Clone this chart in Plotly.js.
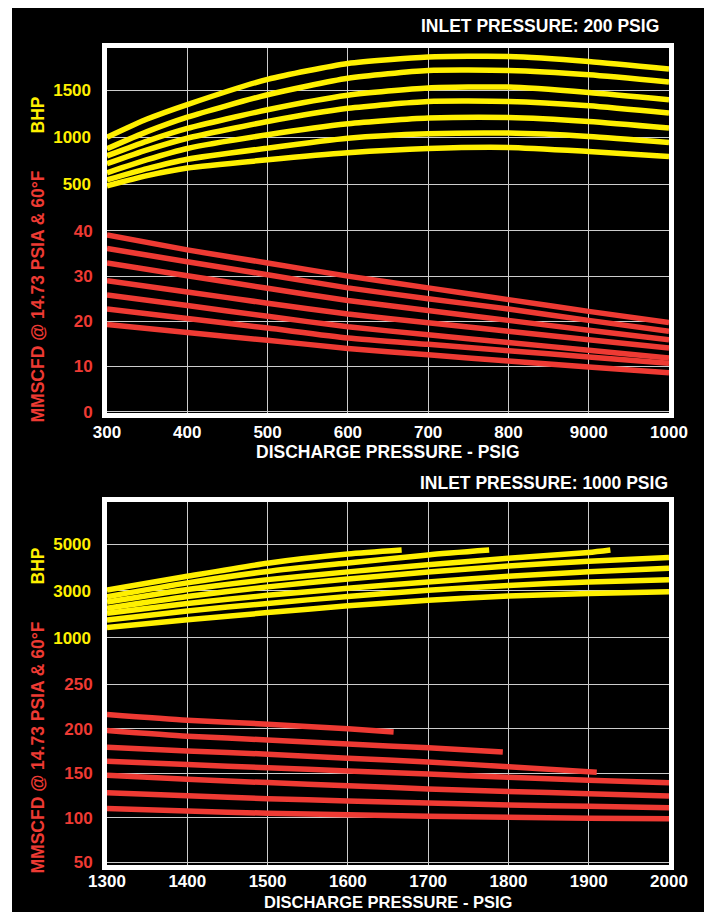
<!DOCTYPE html>
<html>
<head>
<meta charset="utf-8">
<script src="https://cdn.plot.ly/plotly-3.0.1.min.js"></script>
<style>html,body{margin:0;padding:0;background:#fff;}#chart{width:704px;height:912px;}</style>
</head>
<body>
<div id="chart"></div>
<script>
// ---------- DATA ----------
// Top panel: inlet pressure 200 PSIG
const topX = [300, 350, 400, 500, 600, 700, 800, 900, 1000];
const topTickVals = [300, 400, 500, 600, 700, 800, 900, 1000];
const topTickText = ['300', '400', '500', '600', '700', '800', '9000', '1000'];
const topBhp1 = [1000, 1195, 1350, 1620, 1790, 1858, 1864, 1811, 1730];
const topBhp2 = [877, 1060, 1215, 1455, 1631, 1714, 1714, 1668, 1591];
const topBhp3 = [802, 960, 1095, 1294, 1449, 1528, 1537, 1479, 1401];
const topBhp4 = [717, 865, 990, 1169, 1310, 1383, 1383, 1337, 1259];
const topBhp5 = [620, 760, 880, 1027, 1144, 1205, 1212, 1169, 1098];
const topBhp6 = [545, 665, 765, 884, 989, 1037, 1045, 1009, 944];
const topBhp7 = [481, 590, 671, 759, 834, 880, 891, 848, 795];

const topRedX = [300, 400, 500, 600, 700, 800, 900, 1000];
const topFlow1 = [39.1, 35.8, 32.9, 30.0, 27.4, 24.8, 22.2, 19.7];
const topFlow2 = [36.1, 33.2, 30.3, 27.4, 25.0, 22.7, 20.2, 17.8];
const topFlow3 = [32.9, 30.1, 27.3, 24.6, 22.4, 20.2, 18.0, 15.9];
const topFlow4 = [29.0, 26.5, 24.0, 21.6, 19.7, 17.8, 15.9, 14.1];
const topFlow5 = [25.8, 23.5, 21.1, 18.8, 17.0, 15.3, 13.6, 11.9];
const topFlow6 = [22.7, 20.6, 18.5, 16.3, 14.9, 13.5, 12.1, 10.7];
const topFlow7 = [19.3, 17.5, 15.8, 14.0, 12.6, 11.2, 9.9, 8.6];

const topFlowTicks = [0, 10, 20, 30, 40];
const topBhpTicks = [500, 1000, 1500];

// Bottom panel: inlet pressure 1000 PSIG
const botTickVals = [1300, 1400, 1500, 1600, 1700, 1800, 1900, 2000];
const botBhp1X = [1300, 1400, 1500, 1600, 1667];
const botBhp1 = [3030, 3620, 4180, 4570, 4740];
const botBhp2X = [1300, 1400, 1500, 1600, 1700, 1776];
const botBhp2 = [2750, 3340, 3830, 4190, 4535, 4740];
const botBhp3X = [1300, 1400, 1500, 1600, 1700, 1800, 1900, 1927];
const botBhp3 = [2520, 3057, 3479, 3810, 4113, 4395, 4634, 4740];
const botX = [1300, 1400, 1500, 1600, 1700, 1800, 1900, 2000];
const botBhp4 = [2260, 2760, 3170, 3510, 3800, 4060, 4260, 4420];
const botBhp5 = [2040, 2460, 2810, 3110, 3380, 3620, 3820, 3970];
const botBhp6 = [1750, 2142, 2465, 2760, 3030, 3230, 3380, 3479];
const botBhp7 = [1430, 1762, 2071, 2360, 2600, 2775, 2888, 2960];

const botFlow1X = [1300, 1400, 1500, 1600, 1657];
const botFlow1 = [216, 209.6, 205.3, 200, 196.5];
const botFlow2X = [1300, 1400, 1500, 1600, 1700, 1793];
const botFlow2 = [198.2, 191.8, 187.6, 183, 178.7, 174.1];
const botFlow3X = [1300, 1400, 1500, 1600, 1700, 1800, 1910];
const botFlow3 = [179.4, 175.2, 171.6, 167, 162.8, 157.4, 151.4];
const botFlow4 = [163.5, 159.9, 156.4, 152.8, 149.3, 145.7, 142.2, 139.5];
const botFlow5 = [147.9, 143.3, 139.7, 136.2, 132.6, 129.8, 127.3, 124.5];
const botFlow6 = [128.4, 124.8, 121.6, 119.1, 116.7, 114.5, 113.1, 111.4];
const botFlow7 = [110.5, 107.8, 105.3, 103.5, 101.8, 100.7, 99.6, 99.0];

const botFlowTicks = [50, 100, 150, 200, 250];
const botBhpTicks = [1000, 3000, 5000];

// ---------- STYLE ----------
const YEL = '#FFF000';
const RED = '#EE3A33';
const W = 704, H = 912;
const FONT = 'Liberation Sans, Arial, Helvetica, sans-serif';
const px = v => v / W;
const py = v => 1 - v / H;

function line(x, y, xa, ya, color) {
  return {x: x, y: y, xaxis: xa, yaxis: ya, type: 'scatter', mode: 'lines',
    line: {color: color, width: 5.5, shape: 'spline', smoothing: 0.6}, hoverinfo: 'skip', showlegend: false};
}

const traces = [
  line(topX, topBhp1, 'x', 'y3', YEL), line(topX, topBhp2, 'x', 'y3', YEL),
  line(topX, topBhp3, 'x', 'y3', YEL), line(topX, topBhp4, 'x', 'y3', YEL),
  line(topX, topBhp5, 'x', 'y3', YEL), line(topX, topBhp6, 'x', 'y3', YEL),
  line(topX, topBhp7, 'x', 'y3', YEL),
  line(topRedX, topFlow1, 'x', 'y', RED), line(topRedX, topFlow2, 'x', 'y', RED),
  line(topRedX, topFlow3, 'x', 'y', RED), line(topRedX, topFlow4, 'x', 'y', RED),
  line(topRedX, topFlow5, 'x', 'y', RED), line(topRedX, topFlow6, 'x', 'y', RED),
  line(topRedX, topFlow7, 'x', 'y', RED),
  line(botBhp1X, botBhp1, 'x2', 'y4', YEL), line(botBhp2X, botBhp2, 'x2', 'y4', YEL),
  line(botBhp3X, botBhp3, 'x2', 'y4', YEL), line(botX, botBhp4, 'x2', 'y4', YEL),
  line(botX, botBhp5, 'x2', 'y4', YEL), line(botX, botBhp6, 'x2', 'y4', YEL),
  line(botX, botBhp7, 'x2', 'y4', YEL),
  line(botFlow1X, botFlow1, 'x2', 'y2', RED), line(botFlow2X, botFlow2, 'x2', 'y2', RED),
  line(botFlow3X, botFlow3, 'x2', 'y2', RED), line(botX, botFlow4, 'x2', 'y2', RED),
  line(botX, botFlow5, 'x2', 'y2', RED), line(botX, botFlow6, 'x2', 'y2', RED),
  line(botX, botFlow7, 'x2', 'y2', RED)
];

const tickFont = c => ({family: FONT, size: 17, color: c, weight: 'bold'});
const GRID = '#cccccc';
const xDom = [px(107), px(669)];
const topDom = [py(413), py(48)];
const botDom = [py(865), py(502)];

function xAxis(dom, anchor, range, vals, text, standoff) {
  return {domain: dom, anchor: anchor, range: range, tickmode: 'array', tickvals: vals, ticktext: text,
    showgrid: true, gridcolor: GRID, gridwidth: 1, zeroline: false,
    showline: true, linecolor: '#fff', linewidth: 5, mirror: true, ticks: '',
    ticklabelstandoff: standoff,
    tickfont: tickFont('#fff'), fixedrange: true};
}
function redAxis(dom, anchor, range, vals) {
  return {domain: dom, anchor: anchor, range: range, tickmode: 'array', tickvals: vals,
    showgrid: true, gridcolor: GRID, gridwidth: 1, zeroline: false,
    showline: true, linecolor: '#fff', linewidth: 5, mirror: true, ticks: '',
    ticklabelstandoff: 6,
    tickfont: tickFont(RED), fixedrange: true};
}
function bhpAxis(over, anchor, range, vals) {
  return {overlaying: over, anchor: anchor, side: 'left', range: range, tickmode: 'array', tickvals: vals,
    showgrid: true, gridcolor: GRID, gridwidth: 1, zeroline: false, showline: false, ticks: '',
    ticklabelstandoff: 15,
    tickfont: tickFont(YEL), fixedrange: true};
}

const titleFont = c => ({family: FONT, size: 17.5, color: c, weight: 'bold'});
function ann(text, x, y, xanchor, color, angle, size) {
  const f = titleFont(color);
  if (size) f.size = size;
  return {text: text, xref: 'paper', yref: 'paper', x: x, y: y, xanchor: xanchor, yanchor: 'middle',
    showarrow: false, font: f, textangle: angle || 0};
}

const layout = {
  width: W, height: H,
  margin: {l: 0, r: 0, t: 0, b: 0},
  paper_bgcolor: '#ffffff', plot_bgcolor: '#000000',
  showlegend: false,
  xaxis: xAxis(xDom, 'y', [300, 1000], topTickVals, topTickText, 0),
  yaxis: redAxis(topDom, 'x', [-0.3, 80.5], topFlowTicks),
  yaxis3: bhpAxis('y', 'x', [-1949, 1955], topBhpTicks),
  xaxis2: xAxis(xDom, 'y2', [1300, 2000], botTickVals, botTickVals.map(String), -3),
  yaxis2: redAxis(botDom, 'x2', [47.2, 454.6], botFlowTicks),
  yaxis4: bhpAxis('y2', 'x2', [-8703, 6793], botBhpTicks),
  shapes: [{type: 'rect', xref: 'paper', yref: 'paper', x0: px(12), x1: 1, y0: 0, y1: py(8),
    fillcolor: '#000000', line: {width: 0}, layer: 'below'}],
  annotations: [
    ann('INLET PRESSURE: 200 PSIG', px(661), py(26), 'right', '#fff'),
    ann('INLET PRESSURE: 1000 PSIG', px(670), py(483), 'right', '#fff'),
    ann('DISCHARGE PRESSURE - PSIG', px(388), py(452), 'center', '#fff'),
    ann('DISCHARGE PRESSURE - PSIG', px(388), py(901.5), 'center', '#fff', 0, 16.5),
    ann('BHP', px(37), py(115.5), 'center', YEL, -90),
    ann('MMSCFD @ 14.73 PSIA & 60°F', px(37), py(296.5), 'center', RED, -90),
    ann('BHP', px(37), py(566.5), 'center', YEL, -90),
    ann('MMSCFD @ 14.73 PSIA & 60°F', px(37), py(747.5), 'center', RED, -90)
  ]
};

Plotly.newPlot('chart', traces, layout, {staticPlot: true, displayModeBar: false});
</script>
</body>
</html>
